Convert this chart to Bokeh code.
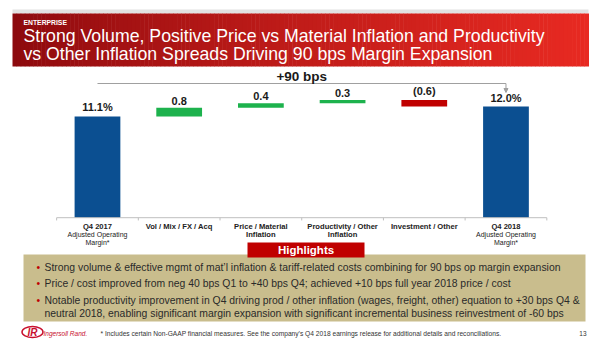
import numpy as np
from bokeh.plotting import figure
from bokeh.models import Range1d, Arrow, NormalHead
from bokeh.core.properties import value
from bokeh.embed import file_html
from bokeh.resources import INLINE

# ---------------- data ----------------
cat_line1 = ["Q4 2017", "Vol / Mix / FX / Acq", "Price / Material",
             "Productivity / Other", "Investment / Other", "Q4 2018"]
cat_line2 = ["", "", "Inflation", "Inflation", "", ""]
cat_note1 = ["Adjusted Operating", "", "", "", "", "Adjusted Operating"]
cat_note2 = ["Margin*", "", "", "", "", "Margin*"]
start_margin = 11.1
deltas = [0.8, 0.4, 0.3, -0.6]
end_margin = 12.0
value_labels = ["11.1%", "0.8", "0.4", "0.3", "(0.6)", "12.0%"]
bridge_label = "+90 bps"
axis_floor = 1.9

kicker = "ENTERPRISE"
title_lines = ["Strong Volume, Positive Price vs Material Inflation and Productivity",
               "vs Other Inflation Spreads Driving 90 bps Margin Expansion"]
highlights_title = "Highlights"
bullets = [
    "Strong volume & effective mgmt of mat\u2019l inflation & tariff-related costs combining for 90 bps op margin expansion",
    "Price / cost improved from neg 40 bps Q1 to +40 bps Q4; achieved +10 bps full year 2018 price / cost",
    "Notable productivity improvement in Q4 driving prod / other inflation (wages, freight, other) equation to +30 bps Q4 &",
]
bullet_cont = "neutral 2018, enabling significant margin expansion with significant incremental business reinvestment of -60 bps"
footnote = "* Includes certain Non-GAAP financial measures. See the company\u2019s Q4 2018 earnings release for additional details and reconciliations."
page_no = "13"

# ---------------- styles ----------------
BLUE = "#0B4F91"
GREEN = "#1DB24D"
RED = "#C00000"
TAN = "#C9BD8D"
FONT = value("Liberation Sans")
PX_PER_UNIT = 11.0

# waterfall geometry from data
idx = list(range(len(cat_line1)))
bottoms, tops, colors = [axis_floor], [start_margin], [BLUE]
cum = start_margin
for d in deltas:
    lo, hi = sorted([cum, cum + d])
    bottoms.append(lo)
    tops.append(hi)
    colors.append(GREEN if d > 0 else RED)
    cum += d
bottoms.append(axis_floor)
tops.append(end_margin)
colors.append(BLUE)

W, H = 600, 350
p = figure(width=W, height=H, output_backend="svg", toolbar_location=None,
           x_range=Range1d(-1.187, 6.157), y_range=Range1d(-10.173, 21.645),
           x_axis_location=None, y_axis_location=None, min_border=0)
p.extra_x_ranges = {"px": Range1d(0, W)}
p.extra_y_ranges = {"px": Range1d(H, 0)}
p.grid.visible = False
p.outline_line_color = None
p.background_fill_color = "white"
p.border_fill_color = "white"

PX = dict(x_range_name="px", y_range_name="px")

# ---------------- header ----------------
p.quad(left=[12], right=[588], top=[9], bottom=[13], color="#E2E2E2", line_color=None, **PX)
n = 140
edges = np.linspace(12, 588, n + 1)
c0 = np.array([140, 10, 14])
c1 = np.array([232, 42, 34])
tt = np.linspace(0, 1, n) ** 0.8
cols = ["#%02x%02x%02x" % tuple(int(v) for v in (c0 + (c1 - c0) * t)) for t in tt]
p.quad(left=edges[:-1], right=edges[1:] + 0.5, top=[13] * n, bottom=[66] * n,
       color=cols, line_color=None, **PX)
p.text(x=[23], y=[22], text=[kicker], text_font=FONT, text_font_size="6.8px",
       text_font_style="bold", text_color="white", text_baseline="middle", **PX)
p.text(x=[23, 23], y=[35, 53], text=title_lines, text_font=FONT, text_font_size="17.7px",
       text_color="white", text_baseline="middle", **PX)

# ---------------- chart ----------------
p.vbar(x=idx, width=0.56, bottom=bottoms, top=tops, color=colors, line_color=None)
gap = 3.0 / PX_PER_UNIT
p.text(x=idx, y=[t + gap for t in tops], text=value_labels, text_font=FONT,
       text_font_size="11px", text_font_style="bold", text_color="#1A1A1A",
       text_align="center", text_baseline="bottom")

# category axis
bounds = [i - 0.5 for i in idx] + [idx[-1] + 0.5]
p.segment(x0=[bounds[0]], y0=[axis_floor], x1=[bounds[-1]], y1=[axis_floor],
          line_color="#BFBFBF", line_width=1)
p.segment(x0=bounds, y0=[axis_floor] * len(bounds), x1=bounds,
          y1=[axis_floor - 0.25] * len(bounds), line_color="#BFBFBF", line_width=1)
p.text(x=idx, y=[226] * len(idx), text=cat_line1, text_font=FONT, text_font_size="7.6px",
       text_font_style="bold", text_color="#222222", text_align="center",
       text_baseline="middle", y_range_name="px")
p.text(x=idx, y=[234] * len(idx), text=cat_line2, text_font=FONT, text_font_size="7.6px",
       text_font_style="bold", text_color="#222222", text_align="center",
       text_baseline="middle", y_range_name="px")
p.text(x=idx, y=[234] * len(idx), text=cat_note1, text_font=FONT, text_font_size="7px",
       text_color="#222222", text_align="center", text_baseline="middle", y_range_name="px")
p.text(x=idx, y=[242] * len(idx), text=cat_note2, text_font=FONT, text_font_size="7px",
       text_color="#222222", text_align="center", text_baseline="middle", y_range_name="px")

# bridge bracket
p.line(x=[idx[0], idx[-1]], y=[83, 83], line_color="#A0A0A0", line_width=1, y_range_name="px")
p.add_layout(Arrow(x_start=idx[-1], y_start=83, x_end=idx[-1], y_end=92, y_range_name="px",
                   line_color="#A0A0A0", line_width=1,
                   end=NormalHead(size=4, fill_color="#A0A0A0", line_color="#A0A0A0")))
p.text(x=[(idx[0] + idx[-1]) / 2], y=[76], text=[bridge_label], text_font=FONT,
       text_font_size="13.5px", text_font_style="bold", text_color="#1A1A1A",
       text_align="center", text_baseline="middle", y_range_name="px")

# ---------------- highlights ----------------
p.quad(left=[23], right=[585], top=[254], bottom=[321], color=TAN, line_color=None, **PX)
p.quad(left=[247], right=[364], top=[242], bottom=[257], color=RED, line_color=None, **PX)
p.text(x=[305.5], y=[249.5], text=[highlights_title], text_font=FONT, text_font_size="11.5px",
       text_font_style="bold", text_color="white", text_align="center",
       text_baseline="middle", **PX)
ys = [267, 283, 300]
p.text(x=[36] * 3, y=ys, text=["\u2022"] * 3, text_font=FONT, text_font_size="10.4px",
       text_color=RED, text_baseline="middle", **PX)
p.text(x=[44] * 3, y=ys, text=bullets, text_font=FONT, text_font_size="10.4px",
       text_color="#2A2A2A", text_baseline="middle", **PX)
p.text(x=[44], y=[313], text=[bullet_cont], text_font=FONT, text_font_size="10.4px",
       text_color="#2A2A2A", text_baseline="middle", **PX)

# ---------------- footer ----------------
p.ellipse(x=[32], y=[331.5], width=[21], height=[11], fill_color="white",
          line_color="#C8102E", line_width=1.5, **PX)
p.text(x=[32], y=[331.5], text=["IR"], text_font=FONT, text_font_size="10px",
       text_font_style="bold italic", text_color="#C8102E", text_align="center",
       text_baseline="middle", **PX)
p.text(x=[43], y=[332.5], text=["Ingersoll Rand."], text_font=FONT, text_font_size="6.5px",
       text_font_style="italic", text_color="#C8102E", text_baseline="middle", **PX)
p.text(x=[100], y=[332.5], text=[footnote], text_font=FONT, text_font_size="6.65px",
       text_color="#333333", text_baseline="middle", **PX)
p.text(x=[586], y=[332.5], text=[page_no], text_font=FONT, text_font_size="6.5px",
       text_color="#333333", text_align="right", text_baseline="middle", **PX)

open("out.html", "w").write(file_html(p, INLINE))
